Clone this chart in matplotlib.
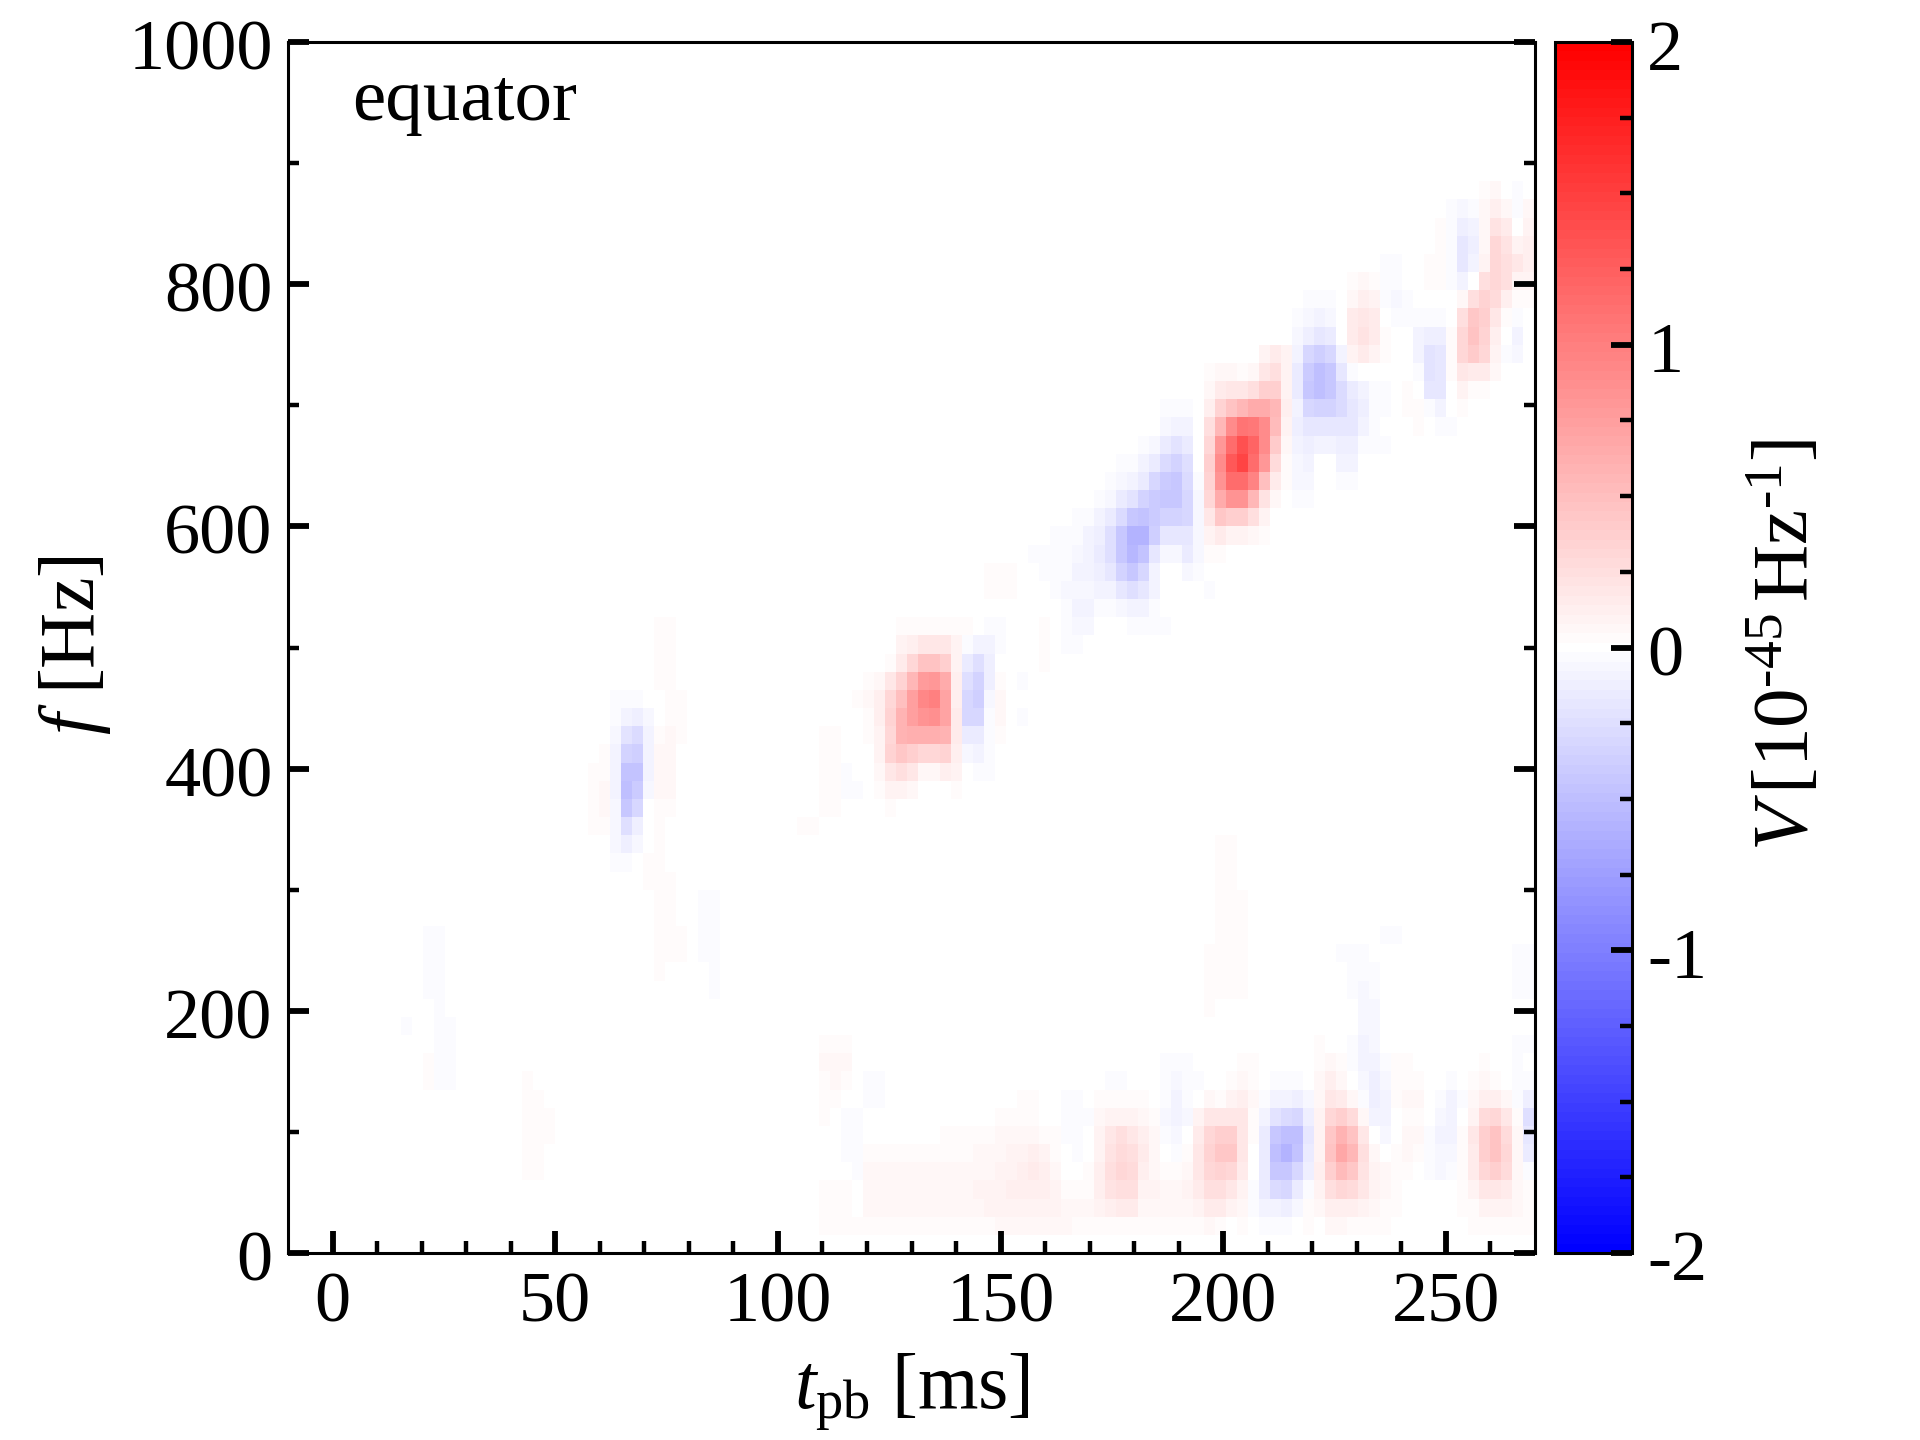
# script to plot the Stokes V spectrogram seen from the equator

import numpy as np
import matplotlib
matplotlib.use("Agg")
import matplotlib.pyplot as plt
from matplotlib.transforms import ScaledTranslation

plt.rcParams["font.family"] = ["Liberation Serif", "DejaVu Serif"]
plt.rcParams["mathtext.fontset"] = "custom"
plt.rcParams["mathtext.rm"] = "Liberation Serif"
plt.rcParams["mathtext.it"] = "Liberation Serif:italic"
plt.rcParams["mathtext.default"] = "regular"


# Time / frequency bins of the spectrogram

t_start = 3.14     # ms
t_step = 2.468     # ms
f_step = 15.0      # Hz
n_t = 108
n_f = 67

# Values, in units of 0.01
# each row: (frequency bin, first time bin, values)

early_faint = [
    (17, 6, [-1, -2, -2]),
    (16, 6, [-1, -2, -2]),
    (15, 6, [-1, -2, -2]),
    (14, 6, [-1, -2, -2]),
    (13, 6, [-1, -1, -2]),
    (12, 4, [-1, -2, 0, 0, -2, -2]),
    (11, 4, [-1, -1, 0, 0, -2, -2]),
    (10, 4, [-1, -1, 1, 3, -2, -2, 0, 0, 0, 0, 0, 0, 1, 1]),
    (9, 4, [-1, -1, 0, 3, -3, -2, 0, 0, 0, 0, 0, 0, 2, 1]),
    (8, 4, [-1, -1, 0, 0, -1, -1, 0, 0, 0, -1, -1, 0, 3, 4, 1]),
    (7, 4, [-1, 0, 0, -1, -1, -1, 0, 0, 0, -1, -1, 0, 3, 3, 2]),
    (6, 7, [-1, -1, 0, 0, 0, 0, -1, -1, -1, 3, 3, 2]),
    (5, 13, [-1, -1, 0, 2, 2, 1]),
    (4, 14, [-1, 0, 2, 2, 0, 0, -1]),
    (3, 16, [1, 1]),
]

blob_68ms = [
    (34, 28, [2, 2]),
    (33, 28, [2, 2]),
    (32, 28, [2, 2]),
    (31, 28, [2, 2]),
    (30, 23, [-1, -2, -2, -2, -1, 0, 3, 3]),
    (29, 23, [-1, -4, -8, -12, -5, 1, 4, 2]),
    (28, 24, [-7, -22, -28, -9, 4, 5, 2, 1]),
    (27, 22, [1, 2, -8, -35, -38, -10, 6, 5, 1, 1]),
    (26, 22, [3, 4, -8, -45, -45, -10, 7, 5]),
    (25, 22, [3, 7, -8, -50, -40, -5, 5, 5]),
    (24, 20, [-1, 0, 3, 7, -7, -42, -30, 0, 4, 2]),
    (23, 20, [-1, 0, 2, 3, -6, -25, -12, 0, 3, 1, 0, 0, 0, -1, -1]),
    (22, 22, [1, 0, -5, -12, -6, 1, 3, 0, 0, 0, -1, -1, -1]),
    (21, 23, [-1, -3, -3, -1, 2, 3, 1, -1, 0, -1, -1]),
    (20, 27, [2, 4, 2, -1, 0, -1, -1]),
    (19, 28, [3, 4, 0, 0, -2, -2, -1]),
    (18, 28, [3, 4, 0, 0, -2, -2, -1]),
    (17, 28, [3, 4, 3, 0, -2, -2, -1]),
    (16, 28, [3, 3, 3, 0, -2, -2, -1]),
    (15, 28, [3, 0, 0, 0, -1, -2, -1]),
    (14, 32, [-1, -2, -1]),
]

blob_130ms = [
    (34, 50, [3, 3, 3, 4, 4, 3, 2, 0, -2, -3, 0, 0, 0, 3]),
    (33, 49, [1, 10, 13, 20, 20, 20, 10, -2, -8, -8, -2, 0, 0, 0, 3]),
    (32, 47, [1, 1, 4, 16, 30, 45, 47, 37, 10, -15, -25, -13, -1, 0, -1, 0, 3]),
    (31, 47, [3, 5, 20, 35, 55, 78, 80, 65, 12, -25, -33, -12, 3, 0, -2]),
    (30, 46, [2, 5, 13, 30, 50, 75, 92, 98, 70, 12, -32, -37, -7, 6, 0, -1]),
    (29, 47, [3, 12, 35, 60, 75, 85, 88, 70, 15, -30, -30, -2, 5, 0, -2]),
    (28, 43, [3, 3, 0, 0, 3, 10, 32, 58, 62, 62, 62, 58, 15, -15, -15, -2, 3, 0, -1]),
    (27, 43, [3, 3, 0, 0, 0, 8, 33, 42, 37, 30, 30, 33, 12, -5, -8, -2]),
    (26, 43, [3, 3, -2, -1, 0, 5, 20, 25, 18, 5, 5, 12, 8, 0, -2, -2]),
    (25, 43, [3, 3, -2, -2, 0, 3, 8, 8, 5, 0, -1, 0, 4]),
    (24, 43, [2, 2, -1, -1, 0, 1, 3, 1, 1, 0, -1, -1]),
    (23, 41, [2, 2]),
]

ridge_blue = [
    (46, 74, [-2, -3, -2, 1]),
    (45, 73, [-1, -7, -10, -10, 0]),
    (44, 71, [-1, -2, -7, -16, -22, -17, -1]),
    (43, 70, [-2, -2, -8, -17, -28, -33, -25, -1]),
    (42, 69, [-2, -7, -9, -17, -32, -40, -42, -28, -2]),
    (41, 67, [-1, -2, -7, -17, -22, -33, -40, -42, -42, -30, -7]),
    (40, 66, [-2, -4, -10, -15, -27, -42, -48, -40, -35, -33, -30, -6]),
    (39, 63, [-1, -2, -2, -3, -8, -13, -25, -42, -58, -58, -38, -18, -18, -20, -7]),
    (38, 62, [-2, -2, -2, -3, -7, -8, -14, -25, -42, -55, -45, -20, -7, -7, -14, -5]),
    (37, 58, [2, 2, 2, 0, -1, -2, -3, -4, -9, -10, -13, -18, -33, -42, -30, -10, 0, 0, -5, -2]),
    (36, 58, [2, 2, 2, 0, 0, -1, -2, -7, -7, -7, -8, -8, -18, -25, -18, -8, 0, 0, -1, 0, -2]),
    (35, 65, [-4, -10, -8, -2, -2, -7, -10, -8, -2]),
    (34, 63, [3, 0, -2, -6, -5, 0, 1, 0, -2, -2, -2, -2, -1]),
    (33, 65, [-2, -2, -1, 0, 0, 0, -1, -1, -1, -1]),
]

ridge_red = [
    (59, 103, [1, 1, 0, -1]),
    (58, 101, [-1, 0, 3, 5, 0, -3, 1]),
    (57, 100, [-2, -5, -3, 5, 12, 5, -2, 5]),
    (56, 99, [3, -2, -13, -10, 6, 22, 14, 1, 10]),
    (55, 98, [1, 3, -2, -18, -13, 7, 30, 22, 8, 12]),
    (54, 92, [1, 0, -3, -2, 1, 0, 3, 3, -3, -18, -10, 10, 30, 25, 18, 12]),
    (53, 91, [3, 5, 4, -2, -2, 0, 1, 3, 3, -3, -8, 0, 25, 32, 24, 10, 8]),
    (52, 87, [-2, -3, -2, 0, 7, 13, 9, -3, -6, -2, 0, 0, 0, -1, 5, 26, 35, 28, 12, 3, 3]),
    (51, 86, [-3, -5, -9, -7, 1, 15, 20, 15, 0, -3, -3, -4, -4, -3, 0, 25, 42, 37, 20, 3, -2, 1]),
    (50, 86, [-5, -12, -20, -15, 0, 15, 22, 14, 3, -1, -1, -10, -13, -12, 2, 30, 48, 35, 13, -1, -10]),
    (49, 78, [1, 1, 0, -1, 0, 10, 15, 8, -10, -30, -38, -30, -10, 10, 16, 10, 3, 0, 0, -10, -22, -18, 2, 30, 40, 30, 8, -2, -5]),
    (48, 78, [3, 5, 5, 3, 6, 18, 24, 10, -15, -40, -50, -42, -20, -2, 1, 1, 0, 0, 0, -4, -22, -20, 2, 20, 16, 15, 5, -1, -1]),
    (47, 74, [-1, -1, 0, 1, 7, 16, 20, 20, 26, 37, 36, 10, -15, -42, -50, -42, -28, -16, -10, -3, -2, 0, 4, 0, -18, -18, 0, 8, 3, 3, 1]),
    (46, 78, [12, 35, 47, 55, 65, 65, 55, 12, -10, -30, -35, -33, -28, -18, -12, -4, -3, -1, 2, 2, -4, -10, -1, 2, 0, 0, 1]),
    (45, 78, [25, 55, 90, 110, 105, 90, 52, 8, -12, -20, -20, -20, -20, -18, -8, -2, -1, 0, 0, 2, 0, -3, -2]),
    (44, 78, [32, 80, 115, 135, 120, 90, 40, 5, -10, -13, -9, -9, -13, -13, -3, -2, -2, 0, 0, 1, 0, -1, -1]),
    (43, 78, [36, 90, 130, 145, 115, 80, 27, 3, -7, -8, 0, 0, -8, -8, -1]),
    (42, 78, [35, 85, 115, 115, 95, 50, 15, 2, -5, -6, 0, 0, -3, -3]),
    (41, 78, [30, 65, 85, 85, 55, 22, 6, 1, -2, -3]),
    (40, 78, [20, 42, 37, 38, 25, 8, 0, 0, 0, -1, -1]),
    (39, 78, [10, 14, 8, 8, 7, 2]),
    (38, 78, [3, 3, 1, 1]),
]

band_left = [
    (16, 42, [-1, -1, -1]),
    (15, 42, [-1, -1, -1]),
    (14, 42, [-1, -1, -1]),
    (11, 43, [3, 4, 4]),
    (10, 43, [5, 6, 5, 0, -1]),
    (9, 43, [4, 5, 3, 0, -2, -2, 0, 0, 0, 0, 0, 0, 0, 0, 0, 0, 0, 0, 0, 0, 0, 0, 0, 0, 0, -1, -2, -2]),
    (8, 43, [3, 3, 0, 0, -2, -2, 0, 0, 0, 0, 0, 0, 0, 0, 0, 0, 1, 1, 2, 2, 0, -1, -2, -3, -1, 2, 4, 3, 3]),
    (7, 43, [2, 0, -2, -3, 0, 0, -1, 0, 0, 0, 0, 0, 1, 1, 1, 1, 2, 3, 3, 3, 1, 0, -2, -3, -2, 5, 10, 10, 8]),
    (6, 43, [1, -1, -4, -4, -1, -1, 0, 1, 1, 1, 1, 2, 2, 2, 3, 4, 5, 7, 7, 7, 3, 2, -2, -3, -1, 8, 20, 24, 20]),
    (5, 43, [1, 1, -3, -4, 3, 3, 3, 3, 3, 3, 3, 4, 4, 4, 5, 6, 7, 9, 10, 11, 8, 3, -1, -2, 0, 8, 22, 28, 26]),
    (4, 43, [0, 1, 0, -2, 5, 6, 6, 5, 5, 5, 5, 5, 5, 5, 6, 7, 8, 10, 13, 15, 13, 7, 1, 0, 2, 12, 26, 30, 27]),
    (3, 43, [2, 3, 2, 0, 6, 6, 6, 6, 6, 7, 7, 7, 7, 7, 8, 9, 10, 11, 12, 13, 12, 8, 3, 2, 4, 12, 22, 26, 24]),
    (2, 43, [2, 4, 4, 1, 5, 5, 5, 5, 5, 5, 5, 5, 5, 7, 7, 8, 9, 9, 9, 10, 10, 8, 6, 5, 5, 8, 12, 15, 14]),
    (1, 43, [2, 3, 3, 3, 2, 3, 2, 2, 2, 2, 2, 3, 3, 3, 3, 3, 5, 5, 5, 5, 6, 6, 5, 3, 3, 3, 4, 4, 4]),
]

band_right = [
    (22, 79, [2, 2]),
    (21, 79, [2, 2]),
    (20, 79, [2, 2]),
    (19, 79, [3, 4, 2]),
    (18, 79, [3, 4, 2, 0, 0, 0, 0, 0, 0, 0, 0, 0, 0, 0, -1, -1, -1]),
    (17, 79, [3, 4, 2, 0, 0, 0, 0, 0, 0, 0, 0, 0, 0, 0, 0, -2, -2]),
    (16, 78, [2, 3, 3, 3, 0, 0, 0, 0, 0, 0, 0, 0, -2, -3, -3, -1, 0, 0, 0, 0, 0, 0, 0, 0, 0, 0, 0, 0, -2, -2]),
    (15, 78, [2, 3, 3, 3, 0, 0, 0, 0, 0, 0, 0, 0, 0, -2, -4, -3, 0, 0, 0, 0, 0, 0, 0, 0, 0, 0, 0, 0, -2, -2]),
    (14, 78, [2, 3, 3, 3, 0, 0, 0, 0, 0, 0, 0, 0, 0, -3, -5, -4, 0, 0, 0, 0, 0, 0, 0, 0, 0, 0, 0, 0, -2, -2]),
    (13, 78, [2, 1, 0, 0, 0, 0, 0, 0, 0, 0, 0, 0, 0, -1, -6, -5]),
    (12, 91, [0, -7, -6]),
    (11, 88, [3, 0, 0, -3, -8, -7, -1, 0, 0, 0, 0, 0, 0, 0, 0, 0, 0, 0, -2, -2]),
    (10, 74, [-2, -2, -2, -1, -1, 0, 1, 2, 2, 1, 1, 1, 1, 0, 4, 6, 2, -3, -8, -8, -2, 2, 2, 1, 1, 0, 0, 1, 1, 2, 0, -1, -4, 1]),
    (9, 74, [-2, -6, -4, -2, 0, 0, 3, 6, 4, 0, -2, -2, -2, -1, 6, 13, 7, 0, -7, -11, -5, 2, 4, 3, 1, 0, -2, 0, 3, 5, 2, -1, -4, -3]),
    (8, 72, [2, 1, -3, -10, -4, 0, 5, 4, 10, 12, 7, -3, -8, -10, -12, -6, 5, 18, 16, 7, -3, -13, -10, 2, 6, 5, 0, -4, -8, -2, 6, 12, 12, 6, -2, -12]),
    (7, 72, [6, 4, -5, -10, -6, 10, 20, 20, 18, 18, 2, -10, -22, -27, -30, -12, 8, 30, 38, 27, 5, -10, -10, 0, 3, 3, -1, -7, -9, 0, 10, 28, 30, 20, 2, -26]),
    (6, 72, [12, 6, -4, -7, 0, 17, 32, 37, 37, 20, 2, -15, -42, -50, -50, -18, 10, 42, 58, 48, 20, -1, -6, 1, 5, 5, -3, -8, -8, 2, 18, 38, 46, 28, 6, -20]),
    (5, 72, [14, 6, 0, -2, 4, 20, 35, 42, 42, 20, 0, -16, -50, -58, -45, -16, 10, 45, 67, 55, 25, 7, 0, 3, 5, 4, -3, -7, -7, 2, 17, 37, 47, 30, 6, -14]),
    (4, 72, [13, 6, 3, 2, 7, 18, 30, 35, 30, 15, 0, -16, -42, -42, -32, -11, 13, 36, 52, 42, 22, 10, 5, 4, 3, 0, -3, -5, -3, 3, 15, 30, 37, 27, 7, -3]),
    (3, 72, [10, 8, 5, 6, 10, 17, 25, 25, 18, 10, -2, -15, -27, -32, -17, -2, 10, 25, 32, 27, 18, 10, 5, 2, 0, 0, 0, -1, 0, 3, 8, 18, 18, 16, 5, 3]),
    (2, 72, [5, 5, 5, 6, 7, 10, 15, 15, 8, 7, -2, -8, -10, -12, -5, 2, 5, 12, 13, 12, 10, 7, 4, 2, 1, 1, 0, 0, 0, 2, 4, 8, 8, 8, 5, 3]),
    (1, 72, [2, 2, 3, 3, 3, 3, 6, 3, 1, 2, -1, -4, -3, -4, 0, 3, 1, 5, 5, 4, 4, 3, 2, 1, 0, 0, 0, 0, 0, 1, 2, 3, 3, 3, 3, 3]),
]

# Tick values and text

x_major = [0, 50, 100, 150, 200, 250]
y_major = [0, 200, 400, 600, 800, 1000]
cbar_ticks = [-2, -1, 0, 1, 2]
cbar_labels = ["-2", "-1", "0", "1", "2"]


# Fill the spectrogram

V = np.zeros((n_f, n_t))
for feature in [early_faint, blob_68ms, blob_130ms, ridge_blue, ridge_red, band_left, band_right]:
    for row, col, vals in feature:
        for k, v in enumerate(vals):
            if v != 0:
                V[row, col + k] = v / 100.0

t_edges = t_start + t_step * np.arange(n_t + 1)
f_edges = f_step * np.arange(n_f + 1)


# Plot

W, H = 1920.0, 1440.0
fig = plt.figure(figsize=(19.2, 14.4), dpi=100)
ax = fig.add_axes([288 / W, 1 - 1253 / H, 1247 / W, 1211 / H])
cax = fig.add_axes([1555 / W, 1 - 1253 / H, 77 / W, 1211 / H])

cmap = plt.get_cmap("bwr", 129)
mesh = ax.pcolormesh(t_edges, f_edges, V, cmap=cmap, vmin=-2.0, vmax=2.0,
                     shading="flat", antialiased=False, linewidth=0)

ax.set_xlim(-10, 270)
ax.set_ylim(0, 1000)
ax.set_xticks(x_major)
ax.set_xticks(np.arange(10, 270, 10), minor=True)
ax.set_yticks(y_major)
ax.set_yticks(np.arange(100, 1000, 200), minor=True)

label_size = 52
ax.tick_params(axis="x", which="major", direction="in", length=16, width=4.2,
               labelsize=label_size, pad=13)
ax.tick_params(axis="x", which="minor", direction="in", length=9, width=3.2)
ax.tick_params(axis="y", which="major", direction="in", length=15, width=4.2,
               left=True, right=True, labelsize=label_size, pad=11)
ax.tick_params(axis="y", which="minor", direction="in", length=8, width=3.2,
               left=True, right=True)
for side in ax.spines.values():
    side.set_linewidth(2.2)

ax.text(352 / W, 1 - 102 / H, "equator", transform=fig.transFigure,
        fontsize=54, ha="left", va="center")


# Colour bar

cbar = fig.colorbar(mesh, cax=cax)
cbar.set_ticks(cbar_ticks)
cbar.set_ticklabels(cbar_labels)
cbar.ax.set_yticks(np.arange(-2, 2.01, 0.25), minor=True)
cbar.ax.tick_params(which="major", direction="in", length=15, width=4.2,
                    right=True, labelsize=label_size, pad=11)
cbar.ax.tick_params(which="minor", direction="in", length=9, width=3.2, right=True)
cbar.outline.set_linewidth(2.2)

# Labels sit a little lower than the ticks in the original
shift_down = ScaledTranslation(0, -2.5 / 100, fig.dpi_scale_trans)
for lbl in ax.get_yticklabels() + cbar.ax.get_yticklabels():
    lbl.set_transform(lbl.get_transform() + shift_down)

fig.text(912 / W, 1 - 1392 / H, r"$\mathit{t}_{\mathrm{pb}}$ [ms]", fontsize=56,
         ha="center", va="center")
fig.text(75 / W, 1 - 645 / H, r"$\mathit{f}$ [Hz]", fontsize=56, rotation=90,
         ha="center", va="center")
fig.text(1787 / W, 1 - 645 / H, r"$\mathit{V}\,[10^{\text{-45}}\,\mathrm{Hz}^{\text{-1}}]$",
         fontsize=57, rotation=90, ha="center", va="center")

plt.savefig("out.png", dpi=100)
